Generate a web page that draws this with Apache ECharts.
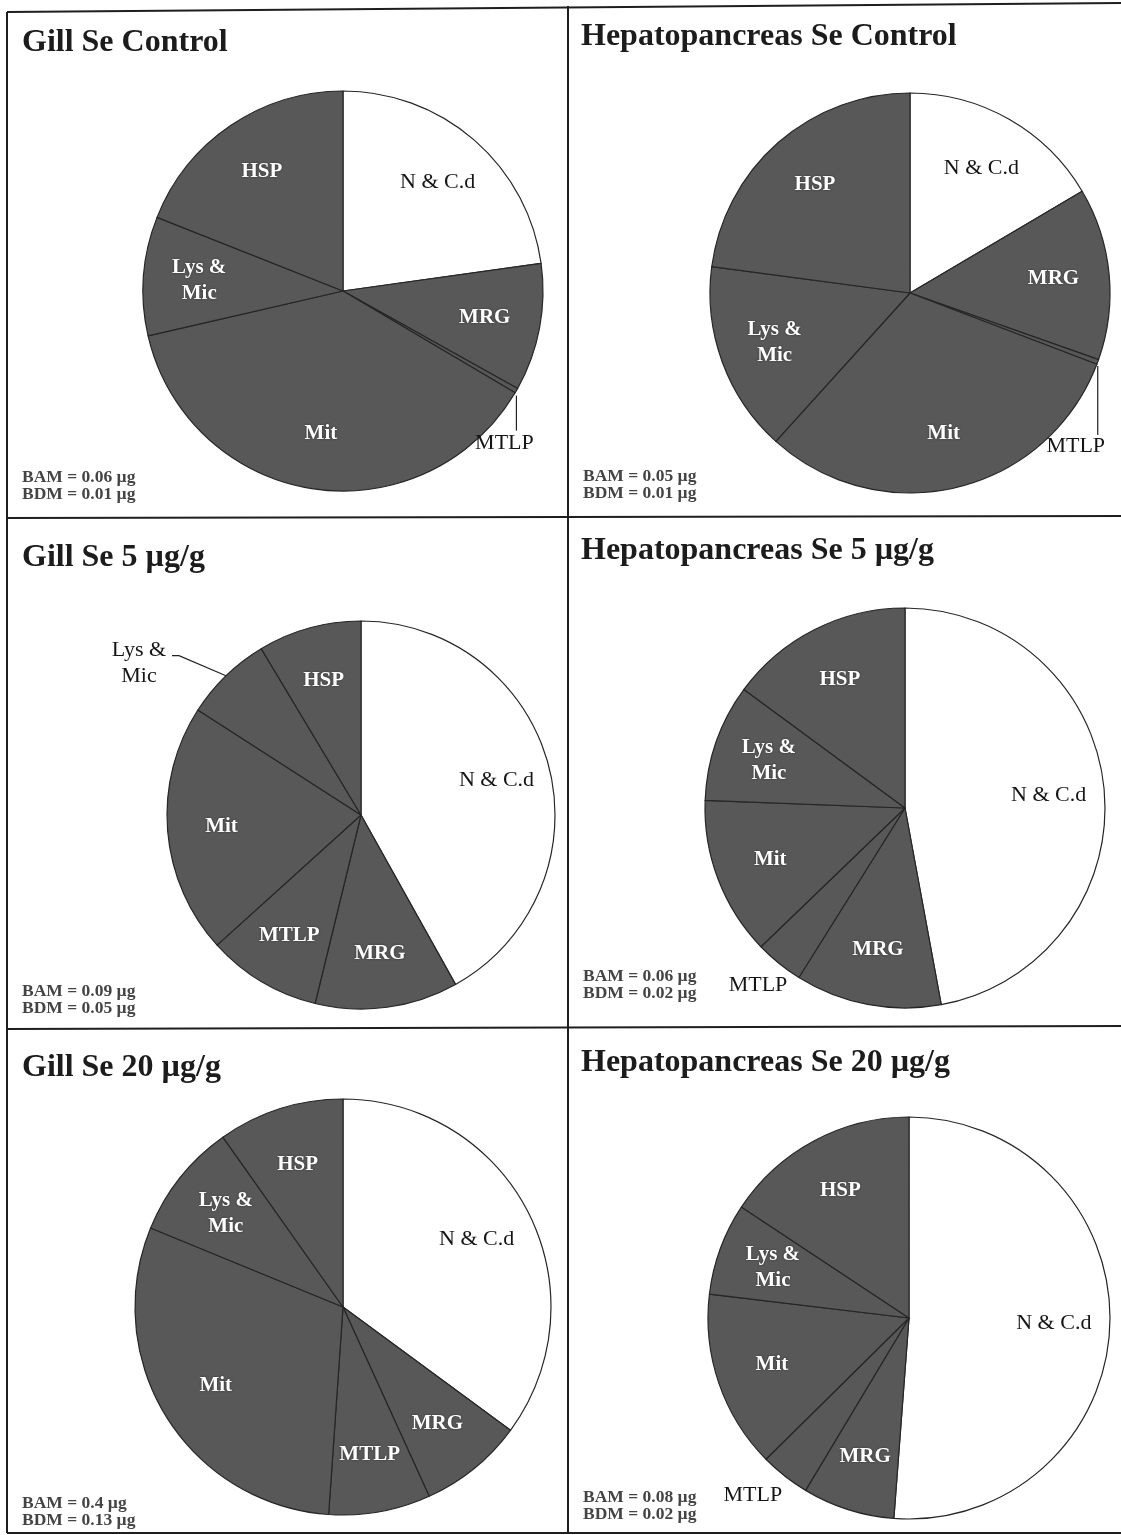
<!DOCTYPE html>
<html>
<head>
<meta charset="utf-8">
<script src="https://cdn.jsdelivr.net/npm/echarts@6/dist/echarts.min.js"></script>
<style>
  html, body { margin: 0; padding: 0; background: #ffffff; }
  #chart { width: 1121px; height: 1535px; }
</style>
</head>
<body>
<div id="chart"></div>
<script>
// Subcellular fractions, clockwise from 12 o'clock (percent of body Se)
const categories = ['N & C.d', 'MRG', 'MTLP', 'Mit', 'Lys & Mic', 'HSP'];
const sliceLabels = ['N & C.d', 'MRG', 'MTLP', 'Mit', 'Lys &\nMic', 'HSP'];

const gillControl = [22.8, 10.3, 0.4, 37.9, 9.6, 19.0];
const hepControl  = [16.5, 13.9, 0.4, 30.9, 15.4, 22.9];
const gill5       = [41.9, 11.9, 9.5, 20.8, 7.3, 8.6];
const hep5        = [47.1, 11.8, 3.9, 12.8, 9.5, 14.9];
const gill20      = [35.1, 8.1, 7.9, 30.1, 9.0, 9.8];
const hep20       = [51.2, 7.4, 4.0, 14.3, 7.4, 15.7];

const panelTitles = [
  'Gill Se Control', 'Hepatopancreas Se Control',
  'Gill Se 5 \u00b5g/g', 'Hepatopancreas Se 5 \u00b5g/g',
  'Gill Se 20 \u00b5g/g', 'Hepatopancreas Se 20 \u00b5g/g'
];
const bamValues = ['0.06', '0.05', '0.09', '0.06', '0.4', '0.08'];
const bdmValues = ['0.01', '0.01', '0.05', '0.02', '0.13', '0.02'];

// ---- layout & style ----
const SERIF = "'Liberation Serif', 'Times New Roman', 'DejaVu Serif', serif";
const sliceColors = ['#ffffff', '#585858', '#585858', '#585858', '#585858', '#585858'];
const LABEL_PUSH = 1.4; // inside labels sit at 0.7 of the radius

const panels = [
  { values: gillControl, center: [343, 291],  r: 200, title: [22, 43],    note: [22, 486] },
  { values: hepControl,  center: [910, 293],  r: 200, title: [581, 37],   note: [583, 485] },
  { values: gill5,       center: [361, 815],  r: 194, title: [22, 558],   note: [22, 1000] },
  { values: hep5,        center: [905, 808],  r: 200, title: [581, 551],  note: [583, 985] },
  { values: gill20,      center: [343, 1307], r: 208, title: [22, 1068],  note: [22, 1512] },
  { values: hep20,       center: [909, 1318], r: 201, title: [581, 1063], note: [583, 1506] }
];

// labels placed outside the pie: offsets from the slice's outer mid-point
const callouts = {
  '0-2': { line: [[0, 5], [0, 40]], text: [-12, 53] },
  '1-2': { line: [[0, 4], [0, 73]], text: [-22, 84] },
  '2-4': { line: [[0, 0], [-47, -20], [-54, -20]], text: [-87, -12] },
  '3-2': { text: [-21, 22] },
  '5-2': { text: [-32, 19] }
};

function edgePoint(panel, k) {
  const total = panel.values.reduce((a, b) => a + b, 0);
  let before = 0;
  for (let j = 0; j < k; j++) before += panel.values[j];
  const a = (before + panel.values[k] / 2) / total * Math.PI * 2;
  return [panel.center[0] + panel.r * Math.sin(a), panel.center[1] - panel.r * Math.cos(a)];
}

function layoutLabel(i, params) {
  const panel = panels[i];
  const k = params.dataIndex;
  const c = callouts[i + '-' + k];
  if (c) {
    const e = edgePoint(panel, k);
    const out = { x: e[0] + c.text[0], y: e[1] + c.text[1], align: 'center', verticalAlign: 'middle' };
    if (c.line) out.labelLinePoints = c.line.map(q => [e[0] + q[0], e[1] + q[1]]);
    return out;
  }
  const rect = params.labelRect;
  const lx = rect.x + rect.width / 2;
  const ly = rect.y + rect.height / 2;
  const [cx, cy] = panel.center;
  return {
    x: cx + (lx - cx) * LABEL_PUSH,
    y: cy + (ly - cy) * LABEL_PUSH,
    align: 'center',
    verticalAlign: 'middle'
  };
}

const darkLabel = {
  color: '#151515', fontWeight: 'normal', fontSize: 22,
  textShadowBlur: 0, textShadowColor: 'transparent'
};

const series = panels.map((panel, i) => ({
  type: 'pie',
  center: panel.center,
  radius: [0, panel.r],
  startAngle: 90,
  clockwise: true,
  avoidLabelOverlap: false,
  silent: true,
  animation: false,
  emphasis: { disabled: true },
  itemStyle: { borderColor: '#262626', borderWidth: 1.2 },
  label: {
    show: true,
    position: 'inside',
    formatter: p => sliceLabels[p.dataIndex],
    fontFamily: SERIF,
    fontSize: 21,
    fontWeight: 'bold',
    lineHeight: 26,
    color: '#ffffff',
    textShadowColor: 'rgba(0,0,0,0.55)',
    textShadowBlur: 2
  },
  labelLine: { show: false },
  labelLayout: params => layoutLabel(i, params),
  data: panel.values.map((v, k) => {
    const item = { name: categories[k], value: v, itemStyle: { color: sliceColors[k] } };
    if (k === 0) item.label = Object.assign({}, darkLabel);
    const c = callouts[i + '-' + k];
    if (c) {
      item.label = Object.assign({ position: 'outside' }, darkLabel);
      item.labelLine = {
        show: !!c.line, length: 10, length2: 0,
        lineStyle: { color: '#222222', width: 1.2 }
      };
    }
    return item;
  })
}));

// panel frame
const frame = [
  [[7, 12], [1121, 3]],
  [[7, 12], [7, 1533]],
  [[568, 6], [568, 1533]],
  [[7, 518], [1121, 516]],
  [[7, 1029], [1121, 1026]],
  [[7, 1533], [1121, 1533]]
].map(seg => ({
  type: 'line',
  silent: true,
  shape: { x1: seg[0][0], y1: seg[0][1], x2: seg[1][0], y2: seg[1][1] },
  style: { stroke: '#1e1e1e', lineWidth: 2 }
}));

const texts = [];
panels.forEach((panel, i) => {
  texts.push({
    type: 'text', silent: true,
    style: {
      text: panelTitles[i], x: panel.title[0], y: panel.title[1],
      font: 'bold 32px ' + SERIF, fill: '#1c1c1c',
      textAlign: 'left', textVerticalAlign: 'middle'
    }
  });
  texts.push({
    type: 'text', silent: true,
    style: {
      text: 'BAM = ' + bamValues[i] + ' \u00b5g\nBDM = ' + bdmValues[i] + ' \u00b5g',
      x: panel.note[0], y: panel.note[1],
      font: 'bold 17.5px ' + SERIF, fill: '#444444', lineHeight: 17,
      textAlign: 'left', textVerticalAlign: 'middle'
    }
  });
});

const chart = echarts.init(document.getElementById('chart'), null, { renderer: 'canvas' });
chart.setOption({
  backgroundColor: '#ffffff',
  animation: false,
  graphic: { elements: frame.concat(texts) },
  series: series
});
</script>
</body>
</html>
